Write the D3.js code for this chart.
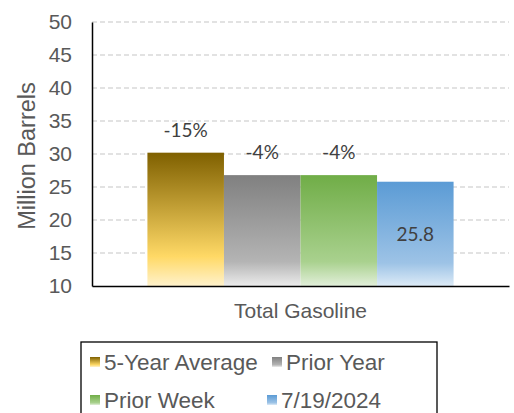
<!DOCTYPE html>
<html lang="en">
  <head>
    <meta charset="UTF-8" />
    <title>Total Gasoline stocks</title>
    <script src="https://cdn.jsdelivr.net/npm/d3@7"></script>
    <style>
      body { margin: 0; background: #fff; }
      svg { display: block; font-family: "Liberation Sans", Arial, sans-serif; }
      .tick text { fill: #595959; font-size: 21px; }
      .grid line { stroke: #d9d9d9; stroke-dasharray: 5,3; stroke-width: 1.3px; }
      .lbl { font-family: Lato, "Open Sans", sans-serif; fill: #404040; font-size: 19px; }
    </style>
  </head>
  <body>
    <svg width="514" height="413"></svg>
    <script>
      // values
      const category = 'Total Gasoline';
      const series = ['5-Year Average', 'Prior Year', 'Prior Week', '7/19/2024'];
      const values = [30.2, 26.8, 26.8, 25.8];
      const labels = ['-15%', '-4%', '-4%', '25.8'];
      const yTicks = [10, 15, 20, 25, 30, 35, 40, 45, 50];
      const colors = [
        ['#7f6000', '#ffd966', '#fff2cc'],
        ['#808080', '#b4b4b4', '#ececec'],
        ['#70ad47', '#a9d18e', '#e2efda'],
        ['#5b9bd5', '#9dc3e6', '#ddebf7']
      ];

      var svg = d3.select('svg');
      var mLeft = 92, mRight = 509, mTop = 22, mBottom = 286;

      var defs = svg.append('defs');
      colors.forEach(function (c, i) {
        var g = defs.append('linearGradient').attr('id', 'g' + i)
          .attr('x1', 0).attr('y1', 0).attr('x2', 0).attr('y2', 1);
        g.append('stop').attr('offset', '0%').attr('stop-color', c[0]);
        g.append('stop').attr('offset', '78%').attr('stop-color', c[1]);
        g.append('stop').attr('offset', '100%').attr('stop-color', c[2]);
      });

      var y = d3.scaleLinear().domain([10, 50]).range([mBottom, mTop]);
      var x0 = d3.scaleBand().domain([category]).range([mLeft, mRight]).paddingInner(0).paddingOuter(0.181);
      var x1 = d3.scaleBand().domain(series).range([0, x0.bandwidth()]);

      // grid
      svg.append('g').attr('class', 'grid')
        .selectAll('line').data(yTicks.slice(1)).enter().append('line')
        .attr('x1', mLeft).attr('x2', mRight)
        .attr('y1', function (d) { return y(d); }).attr('y2', function (d) { return y(d); });

      // bars
      var bx = x0(category);
      svg.append('g').selectAll('rect').data(values).enter().append('rect')
        .attr('x', function (d, i) { return bx + x1(series[i]); })
        .attr('width', x1.bandwidth())
        .attr('y', function (d) { return y(d); })
        .attr('height', function (d) { return y(10) - y(d); })
        .attr('fill', function (d, i) { return 'url(#g' + i + ')'; });

      // data labels
      svg.append('g').selectAll('text').data(values).enter().append('text')
        .attr('class', 'lbl')
        .attr('text-anchor', 'middle')
        .attr('x', function (d, i) { return bx + x1(series[i]) + x1.bandwidth() / 2; })
        .attr('y', function (d, i) { return i === 3 ? (y(d) + y(10)) / 2 + 7 : y(d) - 16; })
        .text(function (d, i) { return labels[i]; });

      // y axis
      var yAxis = svg.append('g').attr('transform', 'translate(' + mLeft + ',0)')
        .call(d3.axisLeft(y).tickValues(yTicks).tickSize(0).tickPadding(20));
      yAxis.select('.domain').attr('stroke', '#000').attr('stroke-width', 1.5);

      // x axis
      var xAxis = svg.append('g').attr('transform', 'translate(0,' + mBottom + ')')
        .call(d3.axisBottom(x0).tickSize(0).tickPadding(17));
      xAxis.select('.domain').attr('stroke', '#000').attr('stroke-width', 1.5);
      xAxis.selectAll('.tick text').attr('font-size', '22px');

      svg.append('text')
        .attr('transform', 'translate(35,156) rotate(-90)')
        .attr('text-anchor', 'middle')
        .attr('fill', '#595959').attr('font-size', '23.5px')
        .text('Million Barrels');

      // legend
      svg.append('rect').attr('x', 81).attr('y', 342).attr('width', 356).attr('height', 80)
        .attr('fill', '#fff').attr('stroke', '#000').attr('stroke-width', 1.3);
      var legPos = [[90, 362], [272, 362], [90, 400], [267, 400]];
      var leg = svg.append('g').selectAll('g').data(series).enter().append('g')
        .attr('transform', function (d, i) { return 'translate(' + legPos[i][0] + ',' + legPos[i][1] + ')'; });
      leg.append('rect').attr('x', 0).attr('y', -5).attr('width', 10).attr('height', 10)
        .attr('fill', function (d, i) { return 'url(#g' + i + ')'; });
      leg.append('text').attr('x', 14).attr('dy', '0.35em')
        .attr('fill', '#595959').attr('font-size', '22.5px')
        .text(function (d) { return d; });
    </script>
  </body>
</html>
